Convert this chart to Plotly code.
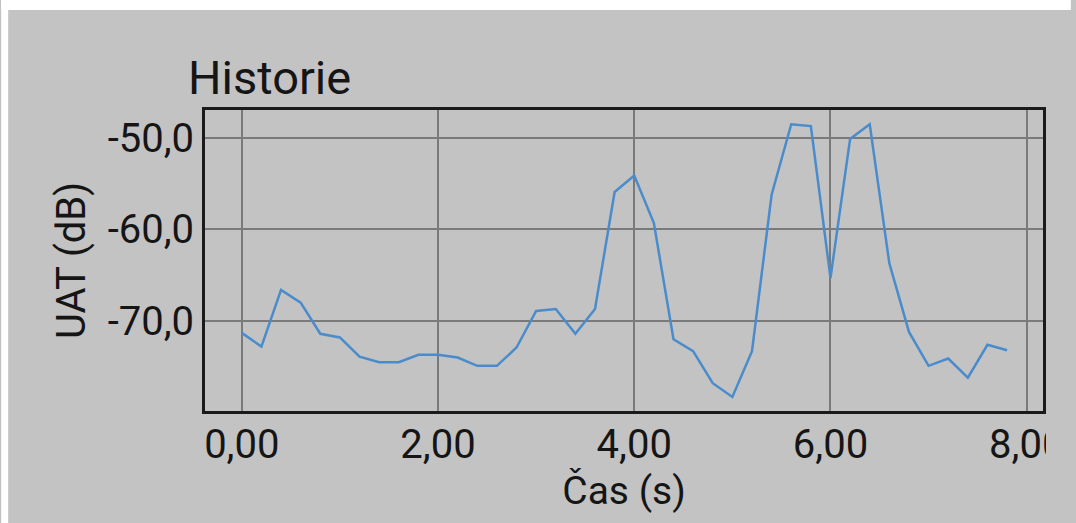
import plotly.graph_objects as go

# Data
time_s = [0.0, 0.2, 0.4, 0.6, 0.8, 1.0, 1.2, 1.4, 1.6, 1.8,
          2.0, 2.2, 2.4, 2.6, 2.8, 3.0, 3.2, 3.4, 3.6, 3.8,
          4.0, 4.2, 4.4, 4.6, 4.8, 5.0, 5.2, 5.4, 5.6, 5.8,
          6.0, 6.2, 6.4, 6.6, 6.8, 7.0, 7.2, 7.4, 7.6, 7.8]
uat_db = [-71.3, -72.8, -66.6, -68.0, -71.4, -71.8, -73.9, -74.5, -74.5, -73.7,
          -73.7, -74.0, -74.9, -74.9, -72.9, -68.9, -68.7, -71.4, -68.7, -55.9,
          -54.1, -59.3, -72.0, -73.3, -76.8, -78.3, -73.3, -56.2, -48.5, -48.7,
          -65.3, -50.1, -48.5, -63.7, -71.2, -74.9, -74.1, -76.2, -72.6, -73.2]

x_tickvals = [0, 2, 4, 6, 8]
x_ticktext = ["0,00", "2,00", "4,00", "6,00", "8,00"]
y_tickvals = [-70, -60, -50]
y_ticktext = ["-70,0", "-60,0", "-50,0"]

title_text = "Historie"
x_title = "Čas (s)"
y_title = "UAT (dB)"

W, H = 1076, 523
L, R, T, B = 205, 28, 110, 112
pw, ph = W - L - R, H - T - B

def px_x(p):
    return (p - L) / pw

def px_y(p):
    return (H - B - p) / ph

BG = "#c3c3c3"
FONT = "Roboto, Arial, sans-serif"
TXT = "#151515"

fig = go.Figure()
fig.add_trace(go.Scatter(x=time_s, y=uat_db, mode="lines",
                         line=dict(color="#4a8ccb", width=2.5),
                         hoverinfo="skip", showlegend=False))

fig.update_layout(
    width=W, height=H,
    margin=dict(l=L, r=R, t=T, b=B, pad=0),
    paper_bgcolor=BG, plot_bgcolor=BG,
    font=dict(family=FONT, color=TXT, size=40),
    title=dict(text=title_text, font=dict(size=47, family=FONT, color=TXT),
               xref="container", x=188 / W, xanchor="left",
               yref="container", y=1 - 78 / H, yanchor="middle"),
    xaxis=dict(range=[-0.375, 8.166], tickvals=x_tickvals, ticktext=x_ticktext,
               showgrid=True, gridcolor="#7a7a7a", gridwidth=1.5,
               zeroline=False, showline=True, mirror=True,
               linecolor="#1a1a1a", linewidth=3, ticks="",
               ticklabelstandoff=-4,
               tickfont=dict(size=40, family=FONT, color=TXT),
               title=dict(text=x_title, font=dict(size=39, family=FONT, color=TXT),
                          standoff=0)),
    yaxis=dict(range=[-79.84, -46.94], tickvals=y_tickvals, ticktext=y_ticktext,
               showgrid=True, gridcolor="#7a7a7a", gridwidth=1.5,
               zeroline=False, showline=True, mirror=True,
               linecolor="#1a1a1a", linewidth=3, ticks="",
               tickfont=dict(size=40, family=FONT, color=TXT),
               title=dict(text=y_title, font=dict(size=40, family=FONT, color=TXT),
                          standoff=10)),
    shapes=[
        # white strips at top and left of the screenshot
        dict(type="rect", xref="paper", yref="paper", layer="below",
             x0=px_x(0), x1=px_x(W), y0=px_y(0), y1=px_y(10),
             fillcolor="white", line=dict(width=0)),
        dict(type="rect", xref="paper", yref="paper", layer="below",
             x0=px_x(0), x1=px_x(7), y0=px_y(0), y1=px_y(H),
             fillcolor="white", line=dict(width=0)),
        # clipping of the last x tick label
        dict(type="rect", xref="paper", yref="paper", layer="above",
             x0=px_x(1051), x1=px_x(W), y0=px_y(414), y1=px_y(470),
             fillcolor=BG, line=dict(width=0)),
    ],
)

fig.write_html("out.html")
